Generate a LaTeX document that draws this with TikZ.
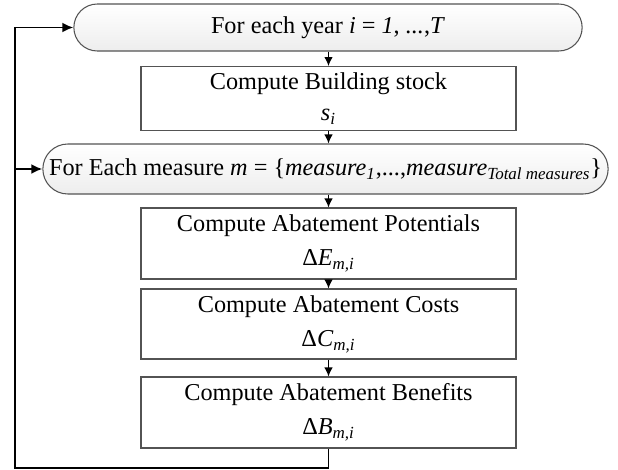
\documentclass[tikz,border=0pt]{standalone}
\usepackage{fontspec}
\setmainfont{Liberation Serif}
\usepackage{tikz}
\usetikzlibrary{shapes.misc, arrows.meta, positioning, calc}
\tikzset{
    loopbox/.style={rounded rectangle, draw=gray!65!black, line width=0.6pt, top color=white, bottom color=gray!14, minimum height=#1, align=center, font=\fontsize{13.8}{19.4}\selectfont},
    stepbox/.style={rectangle, draw=gray!65!black, line width=0.6pt, minimum width=7.5cm, minimum height=#1, align=center, font=\fontsize{13.8}{19.4}\selectfont},
    arrow/.style={line width=0.7pt,-{Latex[length=0.18cm,width=0.17cm]}},
    loopline/.style={line width=1.1pt,-{Latex[length=0.22cm,width=0.2cm]}}
}
\begin{document}
\begin{tikzpicture}
        \useasboundingbox (0,0) rectangle (12.36,-9.38);
        \node[loopbox=0.94cm, minimum width=10.4cm] (year) at (6.56,-0.55) {For each year \textit{i} = \textit{1}, \textit{...},\textit{T}};
        \node[stepbox=1.22cm] (stock) at (6.57,-1.97) {Compute Building stock\\[-0.05cm] \textit{s}\textsubscript{\textit{i}}};
        \node[loopbox=1.0cm, minimum width=11.54cm] (measure) at (6.51,-3.38) {For Each measure \textit{m} = \{\textit{measure}\textsubscript{\textit{1}},...,\textit{measure}\textsubscript{\textit{Total measures}}\}};
        \node[stepbox=1.42cm] (potential) at (6.57,-4.87) {Compute Abatement Potentials\\ Δ\textit{E}\textsubscript{\textit{m,i}}};
        \node[stepbox=1.4cm] (cost) at (6.57,-6.48) {Compute Abatement Costs\\ Δ\textit{C}\textsubscript{\textit{m,i}}};
        \node[stepbox=1.42cm] (benefit) at (6.57,-8.25) {Compute Abatement Benefits\\ Δ\textit{B}\textsubscript{\textit{m,i}}};
        \coordinate (loopcorner) at (0.30,-9.36);
        \draw[arrow] (year.south -| stock.north) -- (stock.north);
        \draw[arrow] (stock.south) -- (stock.south |- measure.north);
        \draw[arrow] (measure.south -| potential.north) -- (potential.north);
        \draw[arrow] (potential.south) -- (cost.north);
        \draw[arrow] (cost.south) -- (benefit.north);
        \draw[loopline] (benefit.south) |- (loopcorner) |- (year.west);
        \draw[loopline] (loopcorner |- measure.west) -- (measure.west);
    \end{tikzpicture}
\end{document}
